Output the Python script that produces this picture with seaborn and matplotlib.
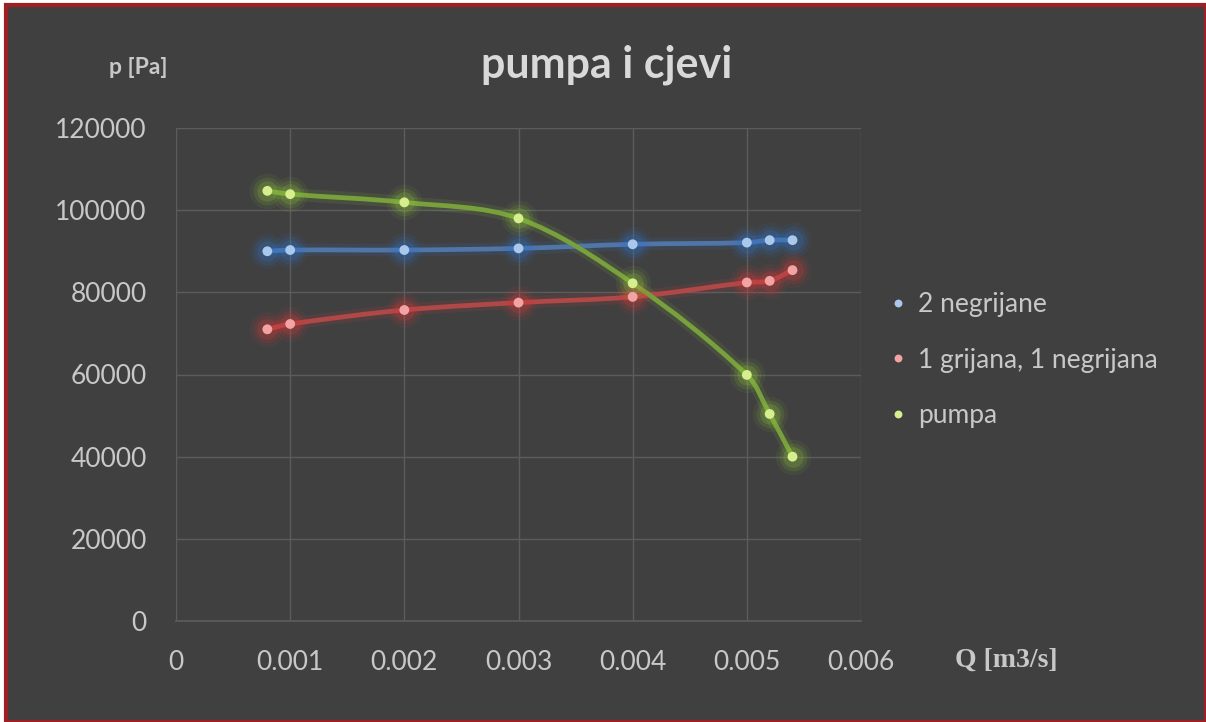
import numpy as np
import pandas as pd
import matplotlib
matplotlib.use('Agg')
import matplotlib.pyplot as plt
import seaborn as sns
from matplotlib.path import Path
from matplotlib.patches import PathPatch, Rectangle

# protok Q [m3/s]
q = [0.0008, 0.001, 0.002, 0.003, 0.004, 0.005, 0.0052, 0.0054]
# tlak p [Pa]
p_2neg = [90000, 90300, 90300, 90700, 91700, 92100, 92700, 92700]
p_1grij = [71000, 72300, 75700, 77500, 78900, 82400, 82800, 85400]
p_pumpa = [104700, 103900, 101900, 98000, 82200, 59900, 50400, 40000]

names = ['2 negrijane', '1 grijana, 1 negrijana', 'pumpa']
dot_col = {'2 negrijane': '#a9c8ec', '1 grijana, 1 negrijana': '#f3a3a3', 'pumpa': '#d6ee8e'}
line_col = {'2 negrijane': '#5076a8', '1 grijana, 1 negrijana': '#b04848', 'pumpa': '#78a03c'}
glow_col = {'2 negrijane': '#2f74d0', '1 grijana, 1 negrijana': '#d83a3a', 'pumpa': '#8cc23a'}

df = pd.concat([
    pd.DataFrame({'Q': q, 'p': p_2neg, 'serija': names[0]}),
    pd.DataFrame({'Q': q, 'p': p_1grij, 'serija': names[1]}),
    pd.DataFrame({'Q': q, 'p': p_pumpa, 'serija': names[2]}),
])

bg = '#404040'
txt = '#c8c8c8'

sns.set_theme(style='dark')
plt.rcParams['font.family'] = ['Lato', 'DejaVu Sans']

fig = plt.figure(figsize=(12.06, 7.22), dpi=100, facecolor='white')
# okvir
fig.patches.append(Rectangle((6 / 1206, 0), 1 - 6 / 1206, 1 - 5 / 722, transform=fig.transFigure,
                             facecolor=bg, edgecolor='#9e1f24', linewidth=3, zorder=-5))
ax = fig.add_axes([176 / 1206, 1 - 621 / 722, 685 / 1206, 493 / 722])
ax.set_facecolor(bg)
XMAX, YMAX = 0.006, 120000


def smooth_path(xs, ys):
    # zagladena linija kao u Excelu: Catmull-Rom segmenti kao kubni Bezier
    pts = np.column_stack([xs, ys]).astype(float)
    sc = np.array([685 / XMAX, 493 / YMAX])  # duljine mjerene u pikselima
    n = len(pts)
    verts = [pts[0]]
    codes = [Path.MOVETO]

    def tangent(i):
        a = pts[max(i - 1, 0)]
        b = pts[min(i + 1, n - 1)]
        return b - a, np.linalg.norm((pts[i] - a) * sc) + np.linalg.norm((b - pts[i]) * sc)

    for i in range(n - 1):
        p1, p2 = pts[i], pts[i + 1]
        seg = np.linalg.norm((p2 - p1) * sc)
        t1, l1 = tangent(i)
        t2, l2 = tangent(i + 1)
        c1 = p1 + t1 * seg / l1 / 3
        c2 = p2 - t2 * seg / l2 / 3
        verts += [c1, c2, p2]
        codes += [Path.CURVE4] * 3
    return Path(verts, codes)


for name in names:
    d = df[df.serija == name]
    path = smooth_path(d.Q.values, d.p.values)
    ax.add_patch(PathPatch(path, facecolor='none', edgecolor=glow_col[name], lw=9, alpha=0.12, zorder=2))
    ax.add_patch(PathPatch(path, facecolor='none', edgecolor=line_col[name], lw=3.4, zorder=3))
    # sjaj oko tocaka
    for s, a in [(650, 0.08), (400, 0.13), (220, 0.22)]:
        ax.scatter(d.Q, d.p, s=s, color=glow_col[name], alpha=a, linewidths=0, zorder=4)

sns.scatterplot(data=df, x='Q', y='p', hue='serija', palette=dot_col, s=50,
                edgecolor='none', ax=ax, zorder=5)

ax.set_xlim(0, XMAX)
ax.set_ylim(0, YMAX)
ax.set_xticks(np.arange(0, 0.0061, 0.001))
ax.set_xticklabels(['0', '0.001', '0.002', '0.003', '0.004', '0.005', '0.006'])
ax.set_yticks(np.arange(0, 120001, 20000))
ax.set_yticklabels([str(v) for v in range(0, 120001, 20000)])
ax.grid(True, color='#5c5c5c', linewidth=1)
ax.tick_params(colors=txt, labelsize=19, length=0)
ax.tick_params(axis='x', pad=21)
ax.tick_params(axis='y', pad=21)
for sp in ['top', 'right', 'left']:
    ax.spines[sp].set_visible(False)
ax.spines['bottom'].set_color('#5c5c5c')
ax.set_xlabel('')
ax.set_ylabel('')

fig.text(607 / 1206, 1 - 65 / 722, 'pumpa i cjevi', ha='center', va='center',
         fontsize=31, fontweight='bold', color='#d9d9d9')
fig.text(138 / 1206, 1 - 68 / 722, 'p [Pa]', ha='center', va='center',
         fontsize=16.5, fontweight='bold', color=txt)
fig.text(1006 / 1206, 1 - 660 / 722, 'Q [m3/s]', ha='center', va='center',
         fontsize=20, fontweight='bold', color=txt, family=['Liberation Serif', 'DejaVu Serif'])

leg = ax.legend(loc='center left', bbox_to_anchor=(1.039, 0.529), frameon=False, fontsize=19,
                labelspacing=1.15, handletextpad=0.34, handlelength=0.8, borderpad=0,
                borderaxespad=0, markerscale=0.8)
for t in leg.get_texts():
    t.set_color(txt)

fig.savefig('out.png', dpi=100, facecolor='white')
